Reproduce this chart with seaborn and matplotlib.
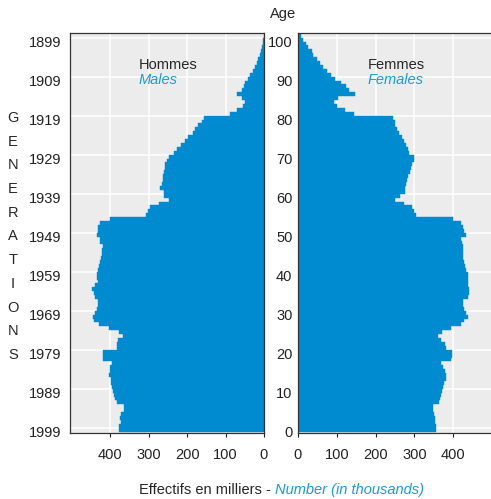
import pandas as pd
import seaborn as sns
import matplotlib.pyplot as plt

# Population of France on 1 January 1999, in thousands, by age (0..101)
ages = list(range(0, 102))
males = [378, 377, 371, 374, 371, 364, 365, 383, 387, 391,
         394, 395, 397, 398, 404, 400, 400, 396, 419, 420,
         420, 383, 383, 380, 367, 378, 404, 430, 442, 446,
         439, 436, 432, 432, 441, 443, 448, 441, 433, 435,
         435, 433, 429, 426, 424, 421, 421, 419, 426, 426,
         436, 433, 433, 426, 402, 306, 303, 296, 274, 247,
         261, 261, 270, 266, 263, 263, 261, 257, 259, 252,
         246, 235, 227, 216, 205, 197, 185, 179, 171, 162,
         156, 88, 71, 55, 49, 58, 71, 58, 53, 49,
         42, 36, 29, 23, 19, 15, 10, 7, 5, 3,
         2, 1]
females = [356, 356, 354, 353, 351, 347, 347, 364, 367, 368,
           371, 374, 377, 381, 381, 379, 373, 368, 394, 398,
           398, 381, 379, 368, 360, 371, 394, 420, 428, 437,
           432, 428, 424, 424, 437, 440, 441, 439, 437, 437,
           437, 434, 430, 428, 426, 426, 426, 426, 422, 421,
           434, 428, 424, 420, 400, 304, 300, 294, 274, 249,
           263, 277, 277, 279, 280, 283, 289, 291, 294, 300,
           298, 285, 283, 279, 273, 268, 260, 255, 251, 249,
           244, 144, 120, 101, 92, 103, 146, 132, 123, 112,
           95, 84, 74, 65, 56, 48, 39, 35, 27, 20,
           14, 9]

age_ticks = [0, 10, 20, 30, 40, 50, 60, 70, 80, 90, 100]
gen_labels = ['1999', '1989', '1979', '1969', '1959', '1949',
              '1939', '1929', '1919', '1909', '1899']
count_ticks = [0, 100, 200, 300, 400]

df = pd.DataFrame({'age': ages, 'males': males, 'females': females})
df['mid'] = df['age'] + 0.5

BLUE = '#008acf'
TXT_BLUE = '#1b9ad6'
FS = 10.5

sns.set_style('darkgrid', {'axes.facecolor': '#ececec', 'grid.color': 'white',
                           'axes.edgecolor': '#333333'})
plt.rcParams['font.family'] = ['Liberation Sans Narrow', 'Liberation Sans', 'DejaVu Sans']
plt.rcParams['font.size'] = FS

W, H = 491, 499
fig = plt.figure(figsize=(W / 100, H / 100), dpi=100)
ax_m = fig.add_axes([70 / W, 1 - 433 / H, 194 / W, 400 / H])
ax_f = fig.add_axes([298 / W, 1 - 433 / H, 194 / W, 400 / H])

for ax, col in [(ax_m, 'males'), (ax_f, 'females')]:
    sns.barplot(data=df, x=col, y='mid', orient='h', native_scale=True,
                color=BLUE, saturation=1, width=1, errorbar=None,
                edgecolor=BLUE, linewidth=0.3, ax=ax)
    ax.set_ylim(-0.35, 102.2)
    ax.set_xlabel('')
    ax.set_ylabel('')
    # grid lines sit one year above the labels
    ax.set_yticks([t + 1 for t in age_ticks], labels=[])
    ax.set_xticks(count_ticks, labels=[str(t) for t in count_ticks])
    ax.grid(True, which='major', color='white', linewidth=1.1)
    ax.tick_params(axis='x', bottom=True, length=3, width=0.8, direction='out',
                   pad=8, labelsize=FS, colors='#222222')
    ax.tick_params(axis='y', which='both', left=False, length=0)
    for s in ax.spines.values():
        s.set_visible(True)
        s.set_linewidth(0.9)
        s.set_color('#333333')

ax_m.set_xlim(505, 0)
ax_f.set_xlim(0, 500)
ax_m.set_yticks(age_ticks, labels=gen_labels, minor=True)
ax_f.set_yticks(age_ticks, labels=[str(t) for t in age_ticks], minor=True)
ax_m.tick_params(axis='y', which='minor', pad=6, labelsize=FS, colors='#222222')
ax_f.tick_params(axis='y', which='minor', pad=4, labelsize=FS, colors='#222222')


def px(x, y):
    return x / W, 1 - y / H


fig.text(*px(283, 14), 'Age', ha='center', va='center', fontsize=FS)
fig.text(*px(139, 65), 'Hommes', ha='left', va='center', fontsize=FS)
fig.text(*px(139, 80), 'Males', ha='left', va='center', fontsize=FS,
         style='italic', color=TXT_BLUE)
fig.text(*px(368, 65), 'Femmes', ha='left', va='center', fontsize=FS)
fig.text(*px(368, 80), 'Females', ha='left', va='center', fontsize=FS,
         style='italic', color=TXT_BLUE)
fig.text(*px(271, 490), 'Effectifs en milliers -', ha='right', va='center',
         fontsize=FS)
fig.text(*px(275, 490), 'Number (in thousands)', ha='left', va='center',
         fontsize=FS, style='italic', color=TXT_BLUE)

for i, letter in enumerate('GENERATIONS'):
    fig.text(*px(13, 118 + 23.7 * i), letter, ha='center', va='center',
             fontsize=FS)

fig.savefig('out.png', dpi=100)
